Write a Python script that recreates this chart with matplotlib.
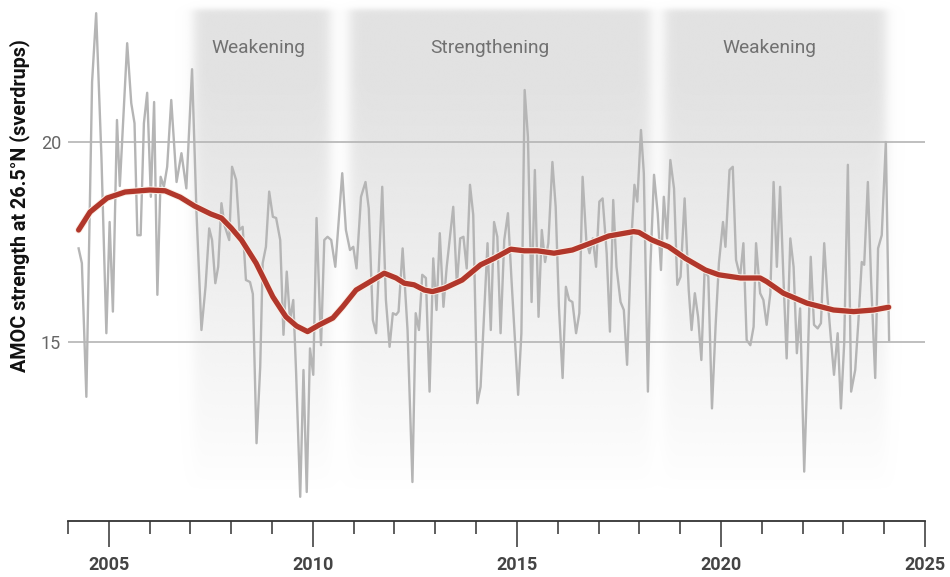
import numpy as np
import matplotlib
matplotlib.use("Agg")
import matplotlib.pyplot as plt
import matplotlib.patheffects as pe
from matplotlib.colors import to_rgb

plt.rcParams['font.family'] = ['Roboto', 'DejaVu Sans']

# monthly AMOC strength (Sv)
months = [
    2004.26, 2004.34, 2004.45, 2004.59, 2004.69, 2004.82, 2004.94, 2005.02, 2005.10, 2005.20,
    2005.27, 2005.45, 2005.55, 2005.63, 2005.70, 2005.78, 2005.86, 2005.94, 2006.03, 2006.11,
    2006.19, 2006.27, 2006.35, 2006.43, 2006.53, 2006.66, 2006.78, 2006.90, 2007.04, 2007.15,
    2007.27, 2007.37, 2007.46, 2007.53, 2007.61, 2007.68, 2007.76, 2007.84, 2007.95, 2008.02,
    2008.12,
    2008.20, 2008.28, 2008.36, 2008.46, 2008.53, 2008.62, 2008.71, 2008.77, 2008.85, 2008.93,
    2009.02, 2009.10, 2009.20, 2009.28, 2009.36, 2009.44, 2009.52, 2009.59, 2009.69, 2009.77,
    2009.85, 2009.93, 2010.01, 2010.09, 2010.20, 2010.28, 2010.36, 2010.45, 2010.55, 2010.72,
    2010.81, 2010.91, 2010.99, 2011.07, 2011.18, 2011.29, 2011.37, 2011.47, 2011.55, 2011.70,
    2011.79, 2011.88, 2011.96, 2012.04, 2012.10, 2012.20,
    2012.32, 2012.44, 2012.52, 2012.60, 2012.68, 2012.77, 2012.86, 2012.95, 2013.03, 2013.11,
    2013.20, 2013.28, 2013.44, 2013.53, 2013.61, 2013.69, 2013.77, 2013.85, 2013.93, 2014.03,
    2014.11, 2014.28, 2014.36, 2014.44, 2014.52, 2014.60, 2014.69, 2014.78, 2014.87, 2015.03,
    2015.11, 2015.19, 2015.27, 2015.36, 2015.44, 2015.53, 2015.61, 2015.69, 2015.77, 2015.87,
    2015.95, 2016.03, 2016.12, 2016.20, 2016.28, 2016.36,
    2016.45, 2016.53, 2016.61, 2016.70, 2016.78, 2016.86, 2016.94, 2017.02, 2017.10, 2017.20,
    2017.28, 2017.36, 2017.44, 2017.54, 2017.62, 2017.70, 2017.80, 2017.88, 2017.95, 2018.04,
    2018.11, 2018.21, 2018.27, 2018.36, 2018.45, 2018.53, 2018.60, 2018.68, 2018.76, 2018.85,
    2018.93, 2019.01, 2019.11, 2019.21, 2019.28, 2019.36, 2019.44, 2019.52, 2019.60, 2019.69,
    2019.78, 2019.87, 2019.95, 2020.05, 2020.11, 2020.21, 2020.29, 2020.37, 2020.47,
    2020.55, 2020.63, 2020.72, 2020.80, 2020.86, 2020.96, 2021.04, 2021.12, 2021.21, 2021.29,
    2021.37, 2021.45, 2021.53, 2021.61, 2021.70, 2021.78, 2021.86, 2021.94, 2022.04, 2022.12,
    2022.20, 2022.28, 2022.37, 2022.45, 2022.53, 2022.61, 2022.69, 2022.77, 2022.86, 2022.94,
    2023.02, 2023.11, 2023.19, 2023.29, 2023.37, 2023.45, 2023.51, 2023.60, 2023.68, 2023.78,
    2023.85, 2023.94, 2024.04, 2024.12,
]
amoc = [
    17.34, 16.97, 13.63, 21.5, 23.22, 19.6, 15.22, 18.0, 15.76, 20.55,
    18.9, 22.47, 20.97, 20.47, 17.67, 17.67, 20.47, 21.23, 18.63, 21.0,
    16.18, 19.13, 18.88, 19.38, 21.05, 19.0, 19.72, 18.84, 21.82, 18.2,
    15.3, 16.38, 17.84, 17.55, 16.47, 16.88, 18.47, 17.9, 17.55, 19.38,
    19.05,
    17.8, 17.88, 16.55, 16.5, 16.2, 12.47, 14.38, 16.97, 17.38, 18.76,
    18.13, 18.1, 17.55, 15.18, 16.76, 15.55, 16.05, 14.22, 11.13, 14.3,
    11.25, 14.84, 14.18, 18.1, 14.92, 17.55, 17.63, 17.55, 16.88, 19.22,
    17.8, 17.3, 17.38, 16.84, 18.63, 19.0, 18.34, 15.55, 15.22, 18.88,
    16.05, 14.88, 15.72, 15.68, 15.76, 17.34,
    15.3, 11.5, 15.72, 15.3, 16.68, 16.6, 13.76, 17.09, 15.8, 17.72,
    15.88, 16.88, 18.38, 16.43, 17.59, 17.63, 16.84, 18.93, 18.18, 13.47,
    13.88, 17.47, 15.3, 18.0, 17.63, 15.22, 17.55, 18.22, 16.51, 13.68,
    15.22, 21.3, 20.13, 16.0, 19.3, 15.63, 17.8, 17.0, 17.47, 19.5,
    18.38, 15.88, 14.1, 16.38, 16.05, 16.0,
    15.22, 15.72, 19.13, 17.55, 17.22, 17.59, 16.88, 18.51, 18.59, 17.22,
    15.26, 18.55, 16.88, 16.0, 15.8, 14.43, 17.47, 18.93, 18.51, 20.3,
    19.22, 13.76, 16.88, 19.18, 18.22, 16.8, 18.63, 17.59, 19.55, 18.84,
    16.43, 16.63, 18.59, 16.3, 15.3, 16.22, 15.63, 14.55, 16.8, 16.63,
    13.34, 15.43, 16.97, 18.0, 17.38, 19.3, 19.38, 17.05, 16.63,
    17.47, 15.05, 14.92, 15.38, 17.47, 16.22, 16.05, 15.43, 16.22, 19.0,
    16.88, 18.88, 16.63, 14.59, 17.59, 16.88, 14.72, 15.84, 11.76, 14.3,
    17.13, 15.43, 15.34, 15.47, 17.47, 16.13, 15.13, 14.18, 15.22, 13.34,
    14.97, 19.43, 13.76, 14.3, 15.55, 17.0, 16.93, 19.0, 16.51, 14.1,
    17.34, 17.67, 20.0, 15.05,
]

# smoothed trend (red)
trend_t = [2004.26, 2004.54, 2004.96, 2005.40, 2006.00, 2006.38, 2006.75, 2007.10, 2007.50,
           2007.76, 2008.00, 2008.25, 2008.61, 2009.02, 2009.34, 2009.60, 2009.87, 2010.16,
           2010.49, 2010.73, 2011.06, 2011.39, 2011.75, 2012.04, 2012.24, 2012.48, 2012.73,
           2012.93, 2013.22, 2013.66, 2014.11, 2014.44, 2014.85, 2015.18, 2015.50, 2015.91,
           2016.36, 2016.80, 2017.25, 2017.86, 2017.99, 2018.31, 2018.72, 2019.13, 2019.62,
           2019.95, 2020.48, 2020.96, 2021.12, 2021.53, 2022.11, 2022.76, 2023.25, 2023.74,
           2024.11]
trend_v = [17.8, 18.25, 18.6, 18.75, 18.8, 18.78, 18.62, 18.4, 18.2,
           18.1, 17.85, 17.55, 16.97, 16.13, 15.63, 15.4, 15.26, 15.43,
           15.6, 15.88, 16.3, 16.5, 16.72, 16.6, 16.47, 16.43, 16.3,
           16.26, 16.34, 16.55, 16.93, 17.09, 17.32, 17.28, 17.28, 17.22,
           17.3, 17.47, 17.65, 17.76, 17.74, 17.55, 17.38, 17.09, 16.8,
           16.68, 16.6, 16.6, 16.51, 16.22, 15.97, 15.8, 15.76, 15.8,
           15.87]

# shaded periods
period_start = [2007.08, 2010.9, 2018.62]
period_end = [2010.42, 2018.28, 2024.05]
period_label = ['Weakening', 'Strengthening', 'Weakening']
label_x = [2008.66, 2014.34, 2021.18]

x0, x1 = 2004, 2025
y0, y1 = 10.525, 23.55

fig = plt.figure(figsize=(9.5, 5.77), dpi=100)
ax = fig.add_axes([68 / 950, 56 / 577, 857 / 950, 521 / 577])
ax.set_xlim(x0, x1)
ax.set_ylim(y0, y1)

# soft gray bands, fading toward the bottom
xs = np.linspace(x0, x1, 1400)
ys = np.linspace(y0, y1, 600)
horiz = np.zeros_like(xs)
for a, b in zip(period_start, period_end):
    horiz += 0.5 * (np.tanh((xs - a) / 0.17) - np.tanh((xs - b) / 0.17))
horiz = np.clip(horiz, 0, 1)
vert = np.clip((ys - 11.3) / (21.5 - 11.3), 0, 1) ** 0.9
vert *= 0.5 * (1 - np.tanh((ys - 23.33) / 0.08))
alpha = vert[:, None] * horiz[None, :]
img = np.zeros((len(ys), len(xs), 4))
img[..., :3] = to_rgb('#e2e2e2')
img[..., 3] = alpha
ax.imshow(img, extent=[x0, x1, y0, y1], origin='lower', aspect='auto',
          interpolation='bilinear', zorder=0)

for lx, lab in zip(label_x, period_label):
    ax.text(lx, 22.35, lab, ha='center', va='center',
            fontsize=13.8, color='#717171', zorder=3)

ax.set_yticks([15, 20])
ax.yaxis.grid(True, color='#b4b4b4', linewidth=1.2, zorder=1)
ax.tick_params(axis='y', length=0, pad=5, labelsize=13, labelcolor='#666666')

ax.plot(months, amoc, color='#b5b5b5', linewidth=1.7, zorder=4)
ax.plot(trend_t, trend_v, color='#b1372b', linewidth=3.8, solid_capstyle='round',
        solid_joinstyle='round', zorder=5,
        path_effects=[pe.Stroke(linewidth=5.2, foreground='#fbefe6'), pe.Normal()])

for s in ['left', 'right', 'top']:
    ax.spines[s].set_visible(False)
ax.spines['bottom'].set_color('#333333')
ax.spines['bottom'].set_linewidth(1.3)

ax.set_xticks([2005, 2010, 2015, 2020, 2025])
ax.set_xticks(np.arange(2004, 2026), minor=True)
ax.tick_params(axis='x', which='major', length=19, width=1.1, color='#333333',
               pad=6, labelsize=13, labelcolor='#444444')
ax.tick_params(axis='x', which='minor', length=9.5, width=1.1, color='#333333')
for t in ax.get_xticklabels():
    t.set_fontweight('bold')

fig.text(19.5 / 950, 1 - 206 / 577, 'AMOC strength at 26.5°N (sverdrups)', rotation=90,
         ha='center', va='center', fontsize=14.2, fontweight='bold', color='#111111')

fig.savefig('out.png', dpi=100)
